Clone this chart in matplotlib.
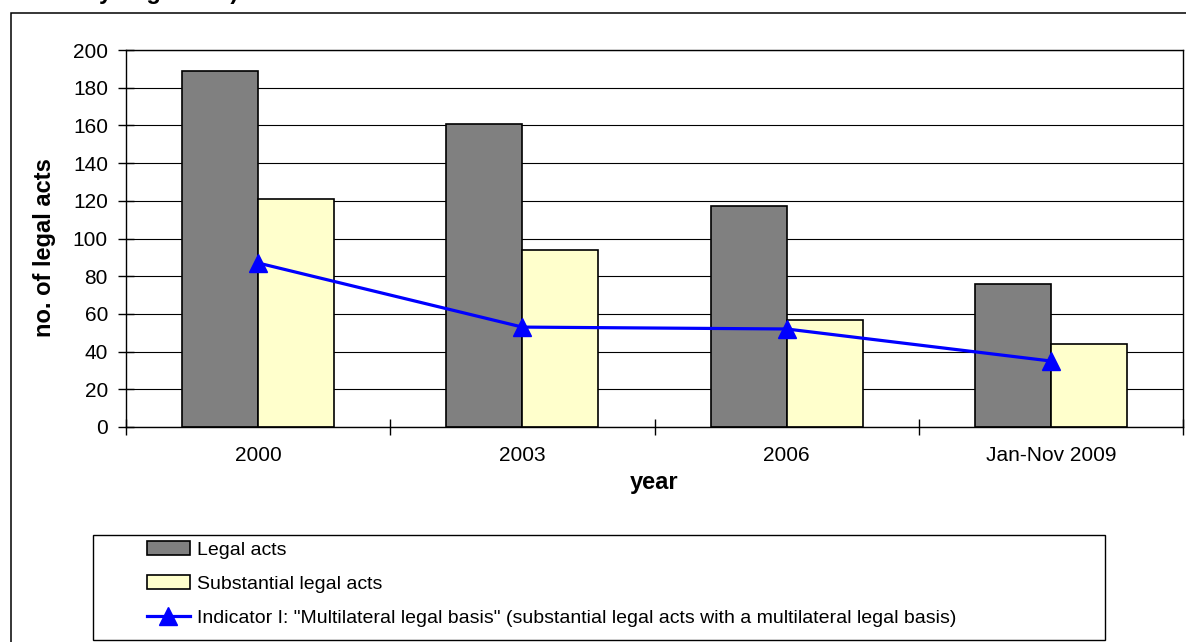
import numpy as np
import matplotlib
matplotlib.use("Agg")
import matplotlib.pyplot as plt
from matplotlib.patches import Rectangle
from matplotlib.ticker import FixedLocator, NullFormatter

plt.rcParams['font.family'] = ['Liberation Sans', 'DejaVu Sans']

# data
years = ["2000", "2003", "2006", "Jan-Nov 2009"]
legal_acts = [189, 161, 117, 76]
substantial_acts = [121, 94, 57, 44]
indicator_multilateral = [87, 53, 52, 35]

W, H = 1186, 642
fig = plt.figure(figsize=(W / 100, H / 100), dpi=100)
ax = fig.add_axes([126 / W, 1 - 427 / H, (1183 - 126) / W, (427 - 50) / H])

x = np.arange(len(years))
bw = 0.2873
b1 = ax.bar(x - bw / 2, legal_acts, bw, color="#808080", edgecolor="black",
            linewidth=1.2, label="Legal acts", zorder=2)
b2 = ax.bar(x + bw / 2, substantial_acts, bw, color="#FFFFCC", edgecolor="black",
            linewidth=1.2, label="Substantial legal acts", zorder=2)
ln, = ax.plot(x, indicator_multilateral, color="#0000FF", linewidth=2.3, marker="^",
              markersize=13.5, zorder=3,
              label='Indicator I: "Multilateral legal basis" (substantial legal acts with a multilateral legal basis)')

ax.set_xlim(-0.5, len(years) - 0.5)
ax.set_ylim(0, 200)
ax.set_yticks(np.arange(0, 201, 20))
ax.yaxis.grid(True, color="black", linewidth=0.8, zorder=0)
ax.set_axisbelow(True)

# category borders carry the ticks, labels sit in between
ax.xaxis.set_major_locator(FixedLocator(np.arange(-0.5, len(years), 1.0)))
ax.xaxis.set_major_formatter(NullFormatter())
ax.xaxis.set_minor_locator(FixedLocator(x))
ax.set_xticklabels(years, minor=True)
ax.tick_params(axis="x", which="major", direction="inout", length=11, width=1)
ax.tick_params(axis="x", which="minor", length=0, pad=14, labelsize=15)
ax.tick_params(axis="y", direction="inout", length=11, width=1, pad=7.5, labelsize=15)

for s in ax.spines.values():
    s.set_linewidth(1.0)
    s.set_color("black")

ax.set_xlabel("year", fontsize=17, fontweight="bold")
ax.xaxis.set_label_coords(0.5, (427 - 483) / 377)
ax.xaxis.label.set_verticalalignment("center")
ax.set_ylabel("no. of legal acts", fontsize=17, fontweight="bold")
ax.yaxis.set_label_coords((45 - 126) / 1057, (427 - 248) / 377)
ax.yaxis.label.set_verticalalignment("center")

# legend without its own frame, boxed separately
ax.legend(handles=[b1, b2, ln], loc="center left",
          bbox_to_anchor=(147 / W, 1 - 584 / H),
          bbox_transform=fig.transFigure, frameon=False, fontsize=14,
          borderpad=0, borderaxespad=0, handlelength=2.2, handleheight=0.68,
          handletextpad=0.35, labelspacing=0.85)
fig.add_artist(Rectangle((93 / W, 1 - 640 / H), (1105 - 93) / W, (640 - 535) / H,
                         transform=fig.transFigure, fill=False,
                         edgecolor="black", linewidth=1.0))

# outer chart border
fig.add_artist(Rectangle((11 / W, -0.05), 1.0, 1 - 13 / H + 0.05,
                         transform=fig.transFigure, fill=False,
                         edgecolor="black", linewidth=1.1, clip_on=False))

# last line of the caption above the chart
fig.text(99 / W, 1.0 + 1 / H, "y in general)", fontsize=17, fontweight="bold",
         va="baseline", ha="left")

fig.savefig("out.png", dpi=100, facecolor="white")
